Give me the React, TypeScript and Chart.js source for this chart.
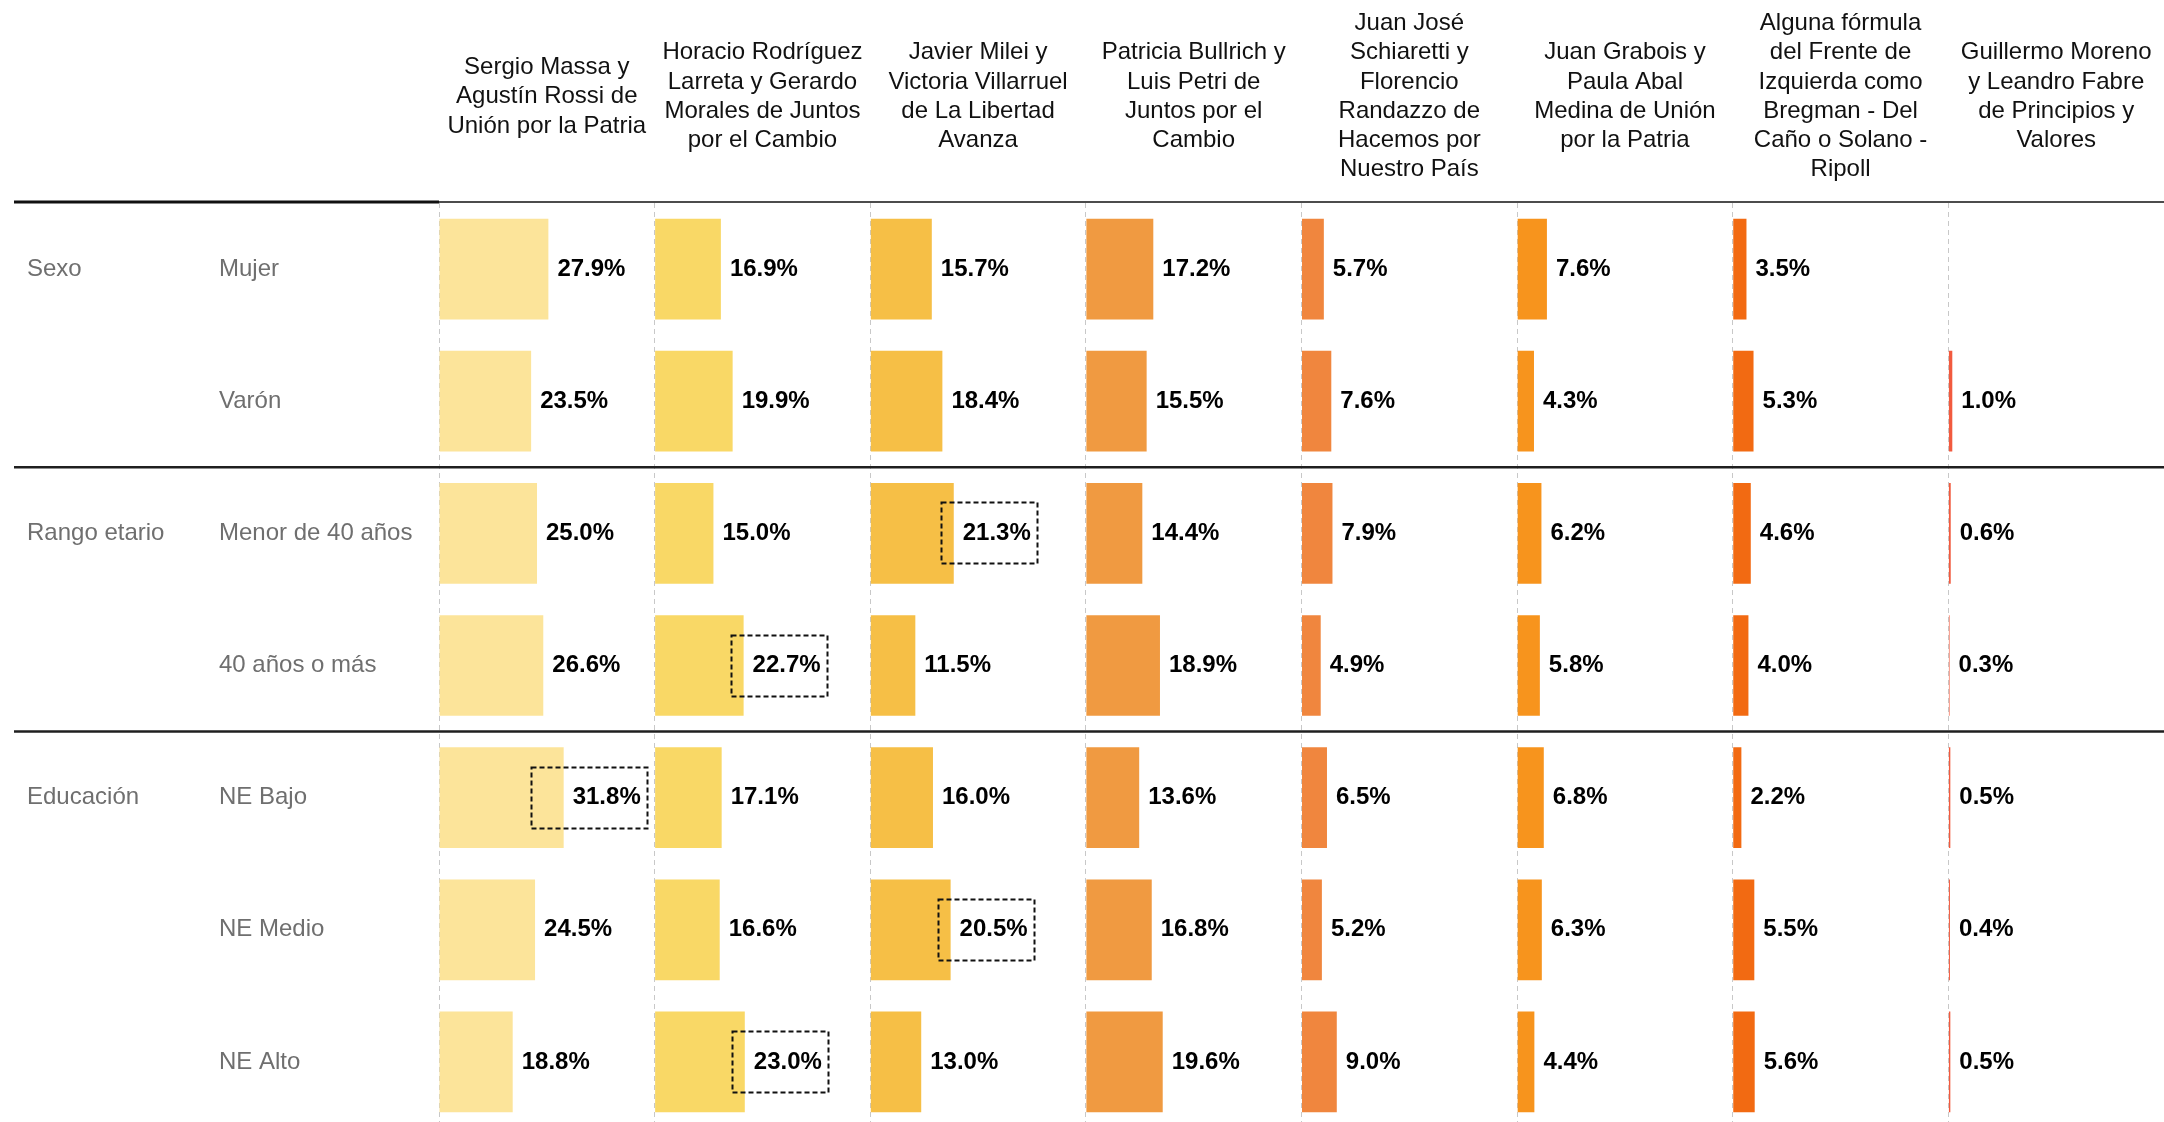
import React, { useEffect, useRef } from 'react';
import { Chart, registerables } from 'chart.js';

Chart.register(...registerables);

// ---------- DATA ----------
const ROW_LABELS = ['Mujer', 'Varón', 'Menor de 40 años', '40 años o más', 'NE Bajo', 'NE Medio', 'NE Alto'];
const GROUP_LABELS = ['Sexo', '', 'Rango etario', '', 'Educación', '', ''];

const CANDIDATE_HEADERS = [
  ['Sergio Massa y', 'Agustín Rossi de', 'Unión por la Patria'],
  ['Horacio Rodríguez', 'Larreta y Gerardo', 'Morales de Juntos', 'por el Cambio'],
  ['Javier Milei y', 'Victoria Villarruel', 'de La Libertad', 'Avanza'],
  ['Patricia Bullrich y', 'Luis Petri de', 'Juntos por el', 'Cambio'],
  ['Juan José', 'Schiaretti y', 'Florencio', 'Randazzo de', 'Hacemos por', 'Nuestro País'],
  ['Juan Grabois y', 'Paula Abal', 'Medina de Unión', 'por la Patria'],
  ['Alguna fórmula', 'del Frente de', 'Izquierda como', 'Bregman - Del', 'Caño o Solano -', 'Ripoll'],
  ['Guillermo Moreno', 'y Leandro Fabre', 'de Principios y', 'Valores'],
];

const MASSA = [27.9, 23.5, 25.0, 26.6, 31.8, 24.5, 18.8];
const LARRETA = [16.9, 19.9, 15.0, 22.7, 17.1, 16.6, 23.0];
const MILEI = [15.7, 18.4, 21.3, 11.5, 16.0, 20.5, 13.0];
const BULLRICH = [17.2, 15.5, 14.4, 18.9, 13.6, 16.8, 19.6];
const SCHIARETTI = [5.7, 7.6, 7.9, 4.9, 6.5, 5.2, 9.0];
const GRABOIS = [7.6, 4.3, 6.2, 5.8, 6.8, 6.3, 4.4];
const IZQUIERDA = [3.5, 5.3, 4.6, 4.0, 2.2, 5.5, 5.6];
const MORENO = [null, 1.0, 0.6, 0.3, 0.5, 0.4, 0.5];

const SERIES = [MASSA, LARRETA, MILEI, BULLRICH, SCHIARETTI, GRABOIS, IZQUIERDA, MORENO];

// highlighted cells: [row index, candidate index]
const HIGHLIGHTS = [[2, 2], [3, 1], [4, 0], [5, 2], [6, 1]];

// ---------- STYLE ----------
const COLORS = ['#FCE49A', '#F9D866', '#F6BF46', '#F09A41', '#F0863E', '#F7941D', '#F26A12', '#F25A3E'];
const FONT = "'Liberation Sans', Arial, sans-serif";
const X_MAX = 55;
const HEADER_H = 203;
const HEADER_LH = 29.3;
const HEADER_CENTER = 96.6;
const LINE_LEFT = 14;
const LABEL_GAP = 9;
const HIGHLIGHT_EXTRA_LEFT: Record<string, number> = { '4-0': 20 };

const overlayPlugin = {
  id: 'overlay',
  afterDatasetsDraw(chart: any) {
    const ctx = chart.ctx as CanvasRenderingContext2D;
    const area = chart.chartArea;
    const yS = chart.scales.y;
    ctx.save();

    // value labels + highlight boxes
    ctx.font = `bold 24px ${FONT}`;
    ctx.fillStyle = '#000';
    ctx.textBaseline = 'middle';
    ctx.textAlign = 'left';
    chart.data.datasets.forEach((ds: any, di: number) => {
      const meta = chart.getDatasetMeta(di);
      meta.data.forEach((el: any, i: number) => {
        const v = ds.data[i];
        if (v === null || v === undefined) return;
        const tx = el.x + LABEL_GAP;
        const txt = v.toFixed(1) + '%';
        ctx.fillText(txt, tx, el.y);
        if (HIGHLIGHTS.some(([r, c]) => r === i && c === di)) {
          const w = ctx.measureText(txt).width;
          const extra = HIGHLIGHT_EXTRA_LEFT[`${i}-${di}`] || 0;
          ctx.save();
          ctx.setLineDash([5, 3]);
          ctx.lineWidth = 2;
          ctx.strokeStyle = '#111';
          const x0 = Math.round(tx - 22 - extra) + 0.5;
          const x1 = Math.round(tx + w + 6) + 0.5;
          const y0 = Math.round(el.y - 31) + 0.5;
          const y1 = Math.round(el.y + 30) + 0.5;
          ctx.strokeRect(x0, y0, x1 - x0, y1 - y0);
          ctx.restore();
        }
      });
    });

    // header rule
    ctx.strokeStyle = '#111';
    ctx.lineWidth = 3;
    ctx.beginPath();
    ctx.moveTo(LINE_LEFT, area.top - 1);
    ctx.lineTo(area.left, area.top - 1);
    ctx.stroke();
    ctx.lineWidth = 1.5;
    ctx.beginPath();
    ctx.moveTo(area.left, area.top - 1);
    ctx.lineTo(chart.width, area.top - 1);
    ctx.stroke();

    // group separators
    ctx.strokeStyle = '#1f1f1f';
    ctx.lineWidth = 2.5;
    for (let i = 1; i < GROUP_LABELS.length; i++) {
      if (GROUP_LABELS[i] !== '') {
        const y = yS.getPixelForValue(i - 0.5);
        ctx.beginPath();
        ctx.moveTo(LINE_LEFT, y);
        ctx.lineTo(chart.width, y);
        ctx.stroke();
      }
    }
    ctx.restore();
  },
};

function yAxis(labels: string[] | undefined, weight: number, width: number): any {
  const axis: any = {
    type: 'category',
    position: 'left',
    weight,
    offset: true,
    grid: { display: false, drawTicks: false },
    border: { display: false },
    ticks: { autoSkip: false, crossAlign: 'far', padding: 0, color: '#6f6f6f', font: { family: FONT, size: 24 } },
    afterFit: (s: any) => {
      s.width = width;
      s.paddingTop = 0;
      s.paddingBottom = 0;
    },
  };
  if (labels) axis.labels = labels;
  return axis;
}

function buildConfig(): any {
  const n = CANDIDATE_HEADERS.length;
  const scales: any = {
    yg: yAxis(GROUP_LABELS, 10, 192),
    y: yAxis(undefined, 0, 220),
  };
  CANDIDATE_HEADERS.forEach((lines, i) => {
    const firstCenter = HEADER_CENTER - ((lines.length - 1) * HEADER_LH) / 2;
    scales[`x${i}`] = {
      type: 'linear',
      position: 'top',
      stack: 'cols',
      stackWeight: 1,
      weight: n - i,
      min: 0,
      max: X_MAX,
      afterBuildTicks: (s: any) => { s.ticks = [{ value: 0 }]; },
      afterFit: (s: any) => { s.height = HEADER_H; s.paddingLeft = 0; s.paddingRight = 0; },
      ticks: { display: false },
      grid: { display: true, drawOnChartArea: true, drawTicks: false, color: '#c8c8c8', lineWidth: 1 },
      border: { display: false, dash: [5, 4] },
      title: {
        display: true,
        text: lines,
        color: '#111',
        font: { family: FONT, size: 24, lineHeight: HEADER_LH / 24 },
        padding: { top: firstCenter - HEADER_LH / 2, bottom: 0 },
      },
    };
  });

  return {
    type: 'bar',
    data: {
      labels: ROW_LABELS,
      datasets: SERIES.map((values, i) => ({
        label: CANDIDATE_HEADERS[i].join(' '),
        data: values,
        xAxisID: `x${i}`,
        yAxisID: 'y',
        backgroundColor: COLORS[i],
        borderWidth: 0,
        grouped: false,
        categoryPercentage: 0.762,
        barPercentage: 1,
      })),
    },
    options: {
      indexAxis: 'y',
      responsive: false,
      animation: false,
      devicePixelRatio: 1,
      layout: { padding: { left: 27, right: 0, top: 0, bottom: 0 } },
      plugins: { legend: { display: false }, tooltip: { enabled: false } },
      scales,
    },
    plugins: [overlayPlugin],
  };
}

export default function App() {
  const ref = useRef<HTMLCanvasElement>(null);
  useEffect(() => {
    const canvas = ref.current;
    if (!canvas) return;
    const chart = new Chart(canvas, buildConfig());
    return () => chart.destroy();
  }, []);
  return (
    <div style={{ position: 'fixed', left: 0, top: 0, width: 2164, height: 1122, overflow: 'hidden', background: '#fff' }}>
      <canvas ref={ref} width={2164} height={1128} style={{ display: 'block', width: 2164, height: 1128 }} />
    </div>
  );
}
